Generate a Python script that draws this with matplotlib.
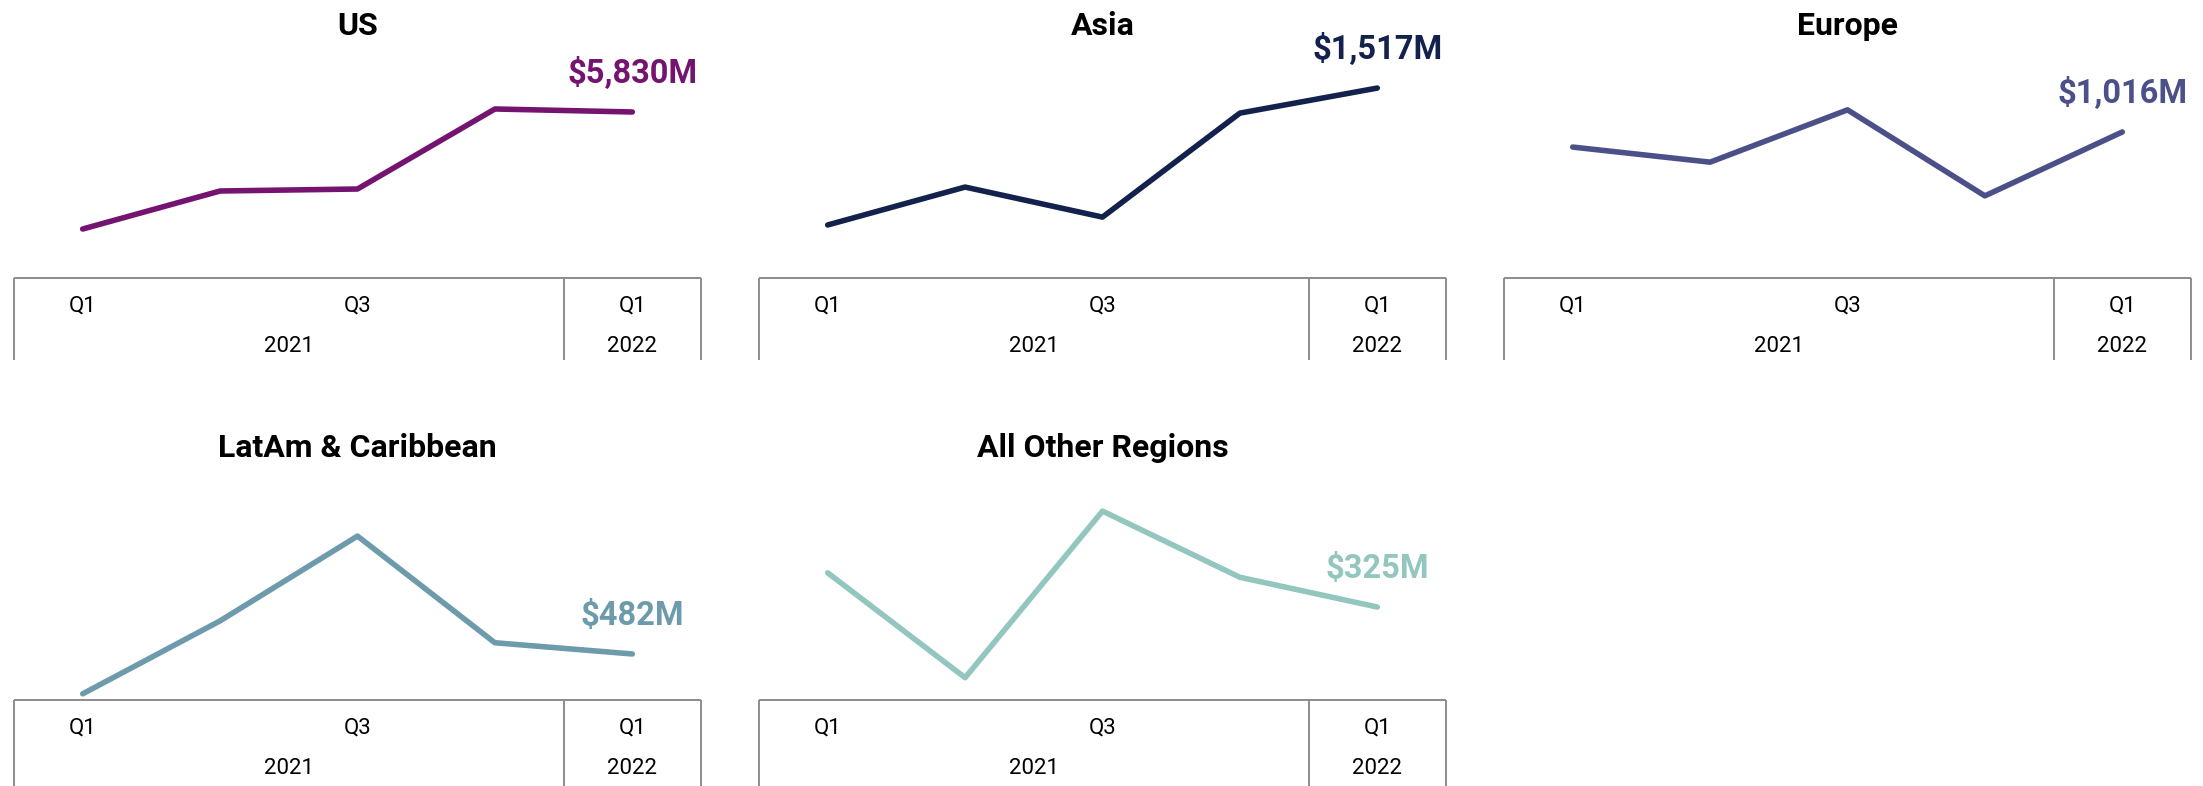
import matplotlib
matplotlib.use("Agg")
import matplotlib.pyplot as plt
from matplotlib.transforms import blended_transform_factory

plt.rcParams['font.family'] = ['Roboto', 'DejaVu Sans']

# ---- data ----
quarters = ["Q1 2021", "Q2 2021", "Q3 2021", "Q4 2021", "Q1 2022"]
tick_labels = ["Q1", "", "Q3", "", "Q1"]
years = ["2021", "2022"]

regions = ["US", "Asia", "Europe", "LatAm & Caribbean", "All Other Regions"]
us_values = [3835, 4483, 4517, 5881, 5830]
asia_values = [856, 1039, 894, 1396, 1517]
europe_values = [973, 930, 1079, 834, 1016]
latam_values = [411, 541, 692, 502, 482]
other_values = [371, 230, 454, 365, 325]
series = [us_values, asia_values, europe_values, latam_values, other_values]
end_labels = ["$5,830M", "$1,517M", "$1,016M", "$482M", "$325M"]
ylims = [(3000, 7057), (600, 1749), (600, 1278), (400, 824), (200, 520)]
colors = ["#741470", "#13224D", "#4C5089", "#6E9BAC", "#93C6BF"]

# ---- layout (pixels) ----
W, H = 2203, 786
fig = plt.figure(figsize=(W / 100, H / 100), dpi=100)
col_left = [14, 759, 1504]
panel_w = 687
row_box_top = [278, 700]
row_title_base = [35, 457]
row_box_bottom = [360, 786]
plot_h = 238
box_color = "#8c8c8c"

x = list(range(len(quarters)))

for i, (name, vals) in enumerate(zip(regions, series)):
    r, c = divmod(i, 3)
    left = col_left[c]
    top = row_box_top[r]
    ax = fig.add_axes([left / W, (H - top) / H, panel_w / W, plot_h / H])
    ax.plot(x, vals, color=colors[i], lw=4.0, solid_capstyle='round',
            solid_joinstyle='round', clip_on=False)
    ax.set_xlim(-0.5, 4.5)
    ax.set_ylim(*ylims[i])
    ax.axis('off')

    # end label
    ax.annotate(end_labels[i], xy=(x[-1], vals[-1]), xytext=(0, 27.5),
                textcoords='offset points', ha='center', va='center',
                fontsize=23.5, fontweight='bold', color=colors[i])

    # title
    fig.text((left + panel_w / 2) / W, 1 - row_title_base[r] / H, name,
             ha='center', va='baseline', fontsize=23, fontweight='bold',
             color='black')

    # category box
    tr = blended_transform_factory(ax.transData, fig.transFigure)
    yt = 1 - top / H
    yb = 1 - row_box_bottom[r] / H
    ax.plot([-0.5, 4.5], [yt, yt], color=box_color, lw=1.4, transform=tr,
            clip_on=False, solid_capstyle='butt')
    for xv in (-0.5, 3.5, 4.5):
        ax.plot([xv, xv], [yt, yb], color=box_color, lw=1.4, transform=tr,
                clip_on=False, solid_capstyle='butt')
    for xv, lab in zip(x, tick_labels):
        if lab:
            ax.text(xv, 1 - (top + 28) / H, lab, transform=tr, ha='center',
                    va='center', fontsize=16, color='black')
    ax.text(1.5, 1 - (top + 69) / H, years[0], transform=tr, ha='center',
            va='center', fontsize=16, color='black')
    ax.text(4, 1 - (top + 69) / H, years[1], transform=tr, ha='center',
            va='center', fontsize=16, color='black')

fig.savefig("out.png", dpi=100, facecolor='white')
